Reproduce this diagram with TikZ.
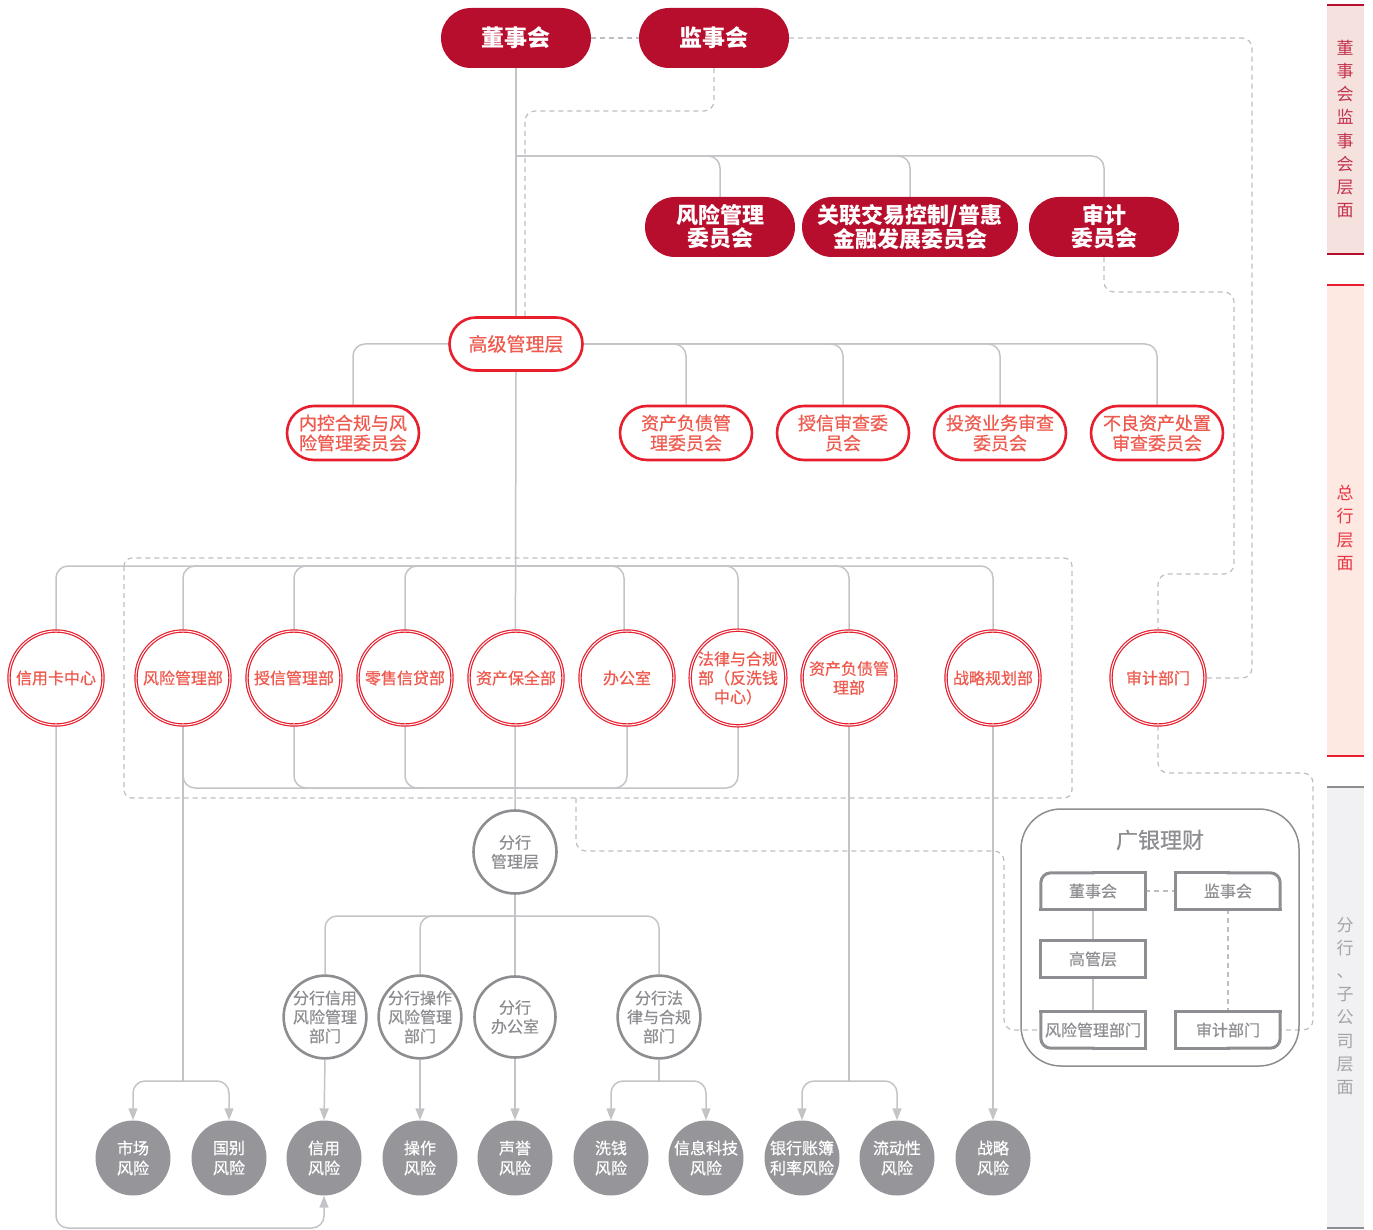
\documentclass[tikz,border=0pt]{standalone}
\usepackage{fontspec}
\setmainfont{Noto Sans CJK SC}
\newfontfamily\medfont[FakeBold=0.6]{Noto Sans CJK SC}
\usepackage{tikz}
\usetikzlibrary{arrows.meta}
\usetikzlibrary{backgrounds}
\definecolor{darkred}{RGB}{184,14,46}
\definecolor{brightred}{RGB}{230,30,45}
\definecolor{coral}{RGB}{238,90,78}
\definecolor{linegray}{RGB}{196,196,200}
\definecolor{dashgray}{RGB}{190,190,194}
\definecolor{midgray}{RGB}{142,142,146}
\definecolor{fillgray}{RGB}{150,150,154}
\definecolor{pinkA}{RGB}{245,226,222}
\definecolor{pinkB}{RGB}{253,232,226}
\definecolor{greyband}{RGB}{241,241,243}
\tikzset{board/.style = {rectangle,rounded corners=30pt,fill=darkred,text=white,minimum width=150pt,minimum height=60pt,inner sep=0pt,align=center,font=\fontsize{23}{24}\selectfont\bfseries}}
\tikzset{committee/.style = {board,font=\fontsize{22}{23}\selectfont\bfseries}}
\tikzset{redpill/.style = {rectangle,rounded corners=27pt,draw=brightred,line width=2.6pt,fill=white,text=coral,minimum width=132pt,minimum height=54pt,inner sep=0pt,align=center,font=\medfont\fontsize{18}{20}\selectfont}}
\tikzset{senior/.style = {redpill,rounded corners=26.5pt,minimum width=133pt,minimum height=53pt,font=\medfont\fontsize{19}{20}\selectfont}}
\tikzset{dept/.style = {circle,draw=brightred,double=white,double distance=1pt,line width=1.2pt,fill=white,text=coral,minimum size=94pt,inner sep=0pt,align=center,font=\medfont\fontsize{16}{19}\selectfont}}
\tikzset{branch/.style = {circle,draw=midgray,line width=2.6pt,fill=white,text=midgray,minimum size=81pt,inner sep=0pt,align=center,font=\medfont\fontsize{16}{19}\selectfont}}
\tikzset{risk/.style = {circle,fill=fillgray,text=white,minimum size=75pt,inner sep=0pt,align=center,font=\medfont\fontsize{16}{20}\selectfont}}
\tikzset{gsmall/.style = {minimum width=104pt,minimum height=36pt,inner sep=0pt,text=midgray,font=\medfont\fontsize{16}{18}\selectfont}}
\tikzset{gbox/.style = {draw=midgray,line width=3pt,line cap=rect}}
\tikzset{conn/.style = {draw=linegray,line width=1.5pt,rounded corners=12pt}}
\tikzset{dconn/.style = {draw=dashgray,line width=1.2pt,dash pattern=on 5pt off 4pt,rounded corners=10pt}}
\tikzset{arr/.style = {conn,-{Triangle[length=12pt,width=9pt]}}}
\tikzset{sidetext/.style = {align=center,font=\fontsize{17}{23.2}\selectfont}}

\begin{document}
\begin{tikzpicture}[x=1pt,y=-1pt]
    \useasboundingbox (0,0) rectangle (1373,1230);

    % Board level
    \node[board] (dsh) at (516,38) {董事会};
    \node[board] (jsh) at (714,38) {监事会};
    \node[committee] (fxwyh) at (720,227) {风险管理\\委员会};
    \node[committee,minimum width=216pt] (glwyh) at (910,227) {关联交易控制/普惠\\金融发展委员会};
    \node[committee] (sjwyh) at (1104,227) {审计\\委员会};

    % Head office
    \node[senior] (gjgl) at (516,344) {高级管理层};
    \node[redpill] (nkwyh) at (353,433) {内控合规与风\\险管理委员会};
    \node[redpill] (zcfzwyh) at (686,433) {资产负债管\\理委员会};
    \node[redpill] (sxwyh) at (843,433) {授信审查委\\员会};
    \node[redpill] (tzwyh) at (1000,433) {投资业务审查\\委员会};
    \node[redpill] (blwyh) at (1157,433) {不良资产处置\\审查委员会};

    \node[dept] (xykzx) at (56,678) {信用卡中心};
    \node[dept] (fxglb) at (183,678) {风险管理部};
    \node[dept] (sxglb) at (294,678) {授信管理部};
    \node[dept] (lsxdb) at (405,678) {零售信贷部};
    \node[dept] (zcbqb) at (516,678) {资产保全部};
    \node[dept] (bgs) at (627,678) {办公室};
    \node[dept] (flhgb) at (738,678) {法律与合规\\部（反洗钱\\中心）};
    \node[dept] (zcfzglb) at (849,678) {资产负债管\\理部};
    \node[dept] (zlghb) at (993,678) {战略规划部};
    \node[dept] (sjbm) at (1158,678) {审计部门};

    % Branch level
    \node[branch,minimum size=83pt] (fhgl) at (515,852) {分行\\管理层};
    \node[branch] (fhxy) at (325,1017) {分行信用\\风险管理\\部门};
    \node[branch] (fhcz) at (420,1017) {分行操作\\风险管理\\部门};
    \node[branch] (fhbgs) at (515,1017) {分行\\办公室};
    \node[branch] (fhfl) at (659,1017) {分行法\\律与合规\\部门};

    % Risks
    \node[risk] (scfx) at (133,1158) {市场\\风险};
    \node[risk] (gbfx) at (229,1158) {国别\\风险};
    \node[risk] (xyfx) at (324,1158) {信用\\风险};
    \node[risk] (czfx) at (420,1158) {操作\\风险};
    \node[risk] (syfx) at (515,1158) {声誉\\风险};
    \node[risk] (xqfx) at (611,1158) {洗钱\\风险};
    \node[risk] (xxkjfx) at (706,1158) {信息科技\\风险};
    \node[risk] (yhzbfx) at (802,1158) {银行账簿\\利率风险};
    \node[risk] (ldxfx) at (897,1158) {流动性\\风险};
    \node[risk] (zlfx) at (993,1158) {战略\\风险};

    % Subsidiary
    \node[draw=midgray,line width=1.5pt,rounded corners=40pt,minimum width=278pt,minimum height=257pt] (gylc) at (1160,937.5) {};
    \node[text=midgray,font=\medfont\fontsize{22}{24}\selectfont] (gytitle) at (1160,840) {广银理财};
    \node[gsmall] (gdsh) at (1093,891) {董事会};
    \node[gsmall] (gjsh) at (1228,891) {监事会};
    \node[gsmall] (ggc) at (1093,959) {高管层};
    \node[gsmall] (gfxb) at (1093,1030) {风险管理部门};
    \node[gsmall] (gsjb) at (1228,1030) {审计部门};
    \draw[gbox] (gdsh.north) -- (gdsh.north east) -- (gdsh.south east) -- (gdsh.south west);
    \draw[gbox,rounded corners=10pt] (gdsh.south west) -- (gdsh.north west) -- (gdsh.north);
    \draw[gbox] (gjsh.north) -- (gjsh.north west) -- (gjsh.south west) -- (gjsh.south east);
    \draw[gbox,rounded corners=10pt] (gjsh.south east) -- (gjsh.north east) -- (gjsh.north);
    \draw[gbox] (ggc.north west) rectangle (ggc.south east);
    \draw[gbox] (gfxb.south) -- (gfxb.south east) -- (gfxb.north east) -- (gfxb.north west);
    \draw[gbox,rounded corners=10pt] (gfxb.north west) -- (gfxb.south west) -- (gfxb.south);
    \draw[gbox] (gsjb.south) -- (gsjb.south west) -- (gsjb.north west) -- (gsjb.north east);
    \draw[gbox,rounded corners=10pt] (gsjb.north east) -- (gsjb.south east) -- (gsjb.south);

    % Level bars
    \fill[pinkA] (1327,5) rectangle (1364,254);
    \draw[darkred,line width=2.5pt] (1327,5) -- (1364,5) (1327,254) -- (1364,254);
    \fill[pinkB] (1327,285) rectangle (1364,756);
    \draw[brightred,line width=2.5pt] (1327,285) -- (1364,285) (1327,756) -- (1364,756);
    \fill[greyband] (1327,787) rectangle (1364,1228);
    \draw[midgray,line width=2.5pt] (1327,787) -- (1364,787) (1327,1228) -- (1364,1228);
    \node[sidetext,text=darkred!85] (lvl1) at (1345,129) {董\\事\\会\\监\\事\\会\\层\\面};
    \node[sidetext,text=brightred!90] (lvl2) at (1345,528) {总\\行\\层\\面};
    \node[sidetext,text=midgray!80] (lvl3) at (1345,1006) {分\\行\\、\\子\\公\\司\\层\\面};

    % Junctions
    \coordinate (wyh) at (516,156);
    \coordinate (jz) at (525,111);
    \coordinate (sjr) at (1252,678);
    \coordinate (sa) at (1234,292);
    \coordinate (sb) at (1234,574);
    \coordinate (bt) at (516,566);
    \coordinate (bb) at (516,788);
    \coordinate (da) at (576,798);
    \coordinate (db) at (1004,851);
    \coordinate (dc) at (1313,773);
    \coordinate (fb) at (516,916);
    \coordinate (s1) at (183,1081);
    \coordinate (s2) at (659,1081);
    \coordinate (s3) at (849,1081);
    \coordinate (s4) at (324,1228);

    \begin{scope}[on background layer]
        % Edges
        % board
        \draw[conn] (dsh.south) -- (gjgl.north);
        \draw[conn] (wyh) -| (fxwyh.north);
        \draw[conn] (wyh) -| (glwyh.north);
        \draw[conn] (wyh) -| (sjwyh.north);
        \draw[dconn] (dsh.east) -- (jsh.west);
        \draw[dconn] (jsh.south) |- (jz) -- (jz |- gjgl.north);
        \draw[dconn] (jsh.east) -| (sjr) -- (sjbm.east);
        \draw[dconn] (sjwyh.south) |- (sa) -- (sb) -| (sjbm.north);

        % senior management
        \draw[conn] (gjgl.west) -| (nkwyh.north);
        \foreach \c in {zcfzwyh,sxwyh,tzwyh,blwyh}
            \draw[conn] (gjgl.east) -| (\c.north);
        \draw[conn] (gjgl.south) -- (fhgl.north);

        % departments
        \foreach \c in {xykzx,fxglb,sxglb,lsxdb,zlghb}
            \draw[conn] (bt) -| (\c.north);
        \draw[conn] (bt) -| ([xshift=-3pt]bgs.north);
        \draw[conn] (bt) -| (flhgb.north);
        \draw[conn] (bt) -| (zcfzglb.north);
        \foreach \c in {fxglb,sxglb,lsxdb,bgs,flhgb}
            \draw[conn] (\c.south) |- (bb);
        \draw[dconn,rounded corners=8pt] (124,558) rectangle (1072,798);
        \draw[dconn] (da) |- (db) |- (gfxb.west);
        \draw[dconn] (sjbm.south) |- (dc) |- (gsjb.east);

        % branch
        \draw[conn] (fhgl.south) -- (fhbgs.north);
        \foreach \c in {fhxy,fhcz,fhfl}
            \draw[conn] (fb) -| (\c.north);

        % risks
        \draw[conn] (fxglb.south) -- (s1);
        \draw[arr] (s1) -| (scfx.north);
        \draw[arr] (s1) -| (gbfx.north);
        \draw[arr] (fhxy.south) -- (xyfx.north);
        \draw[arr] (fhcz.south) -- (czfx.north);
        \draw[arr] (fhbgs.south) -- (syfx.north);
        \draw[conn] (fhfl.south) -- (s2);
        \draw[arr] (s2) -| (xqfx.north);
        \draw[arr] (s2) -| (xxkjfx.north);
        \draw[conn] (zcfzglb.south) -- (s3);
        \draw[arr] (s3) -| (yhzbfx.north);
        \draw[arr] (s3) -| (ldxfx.north);
        \draw[arr] (zlghb.south) -- (zlfx.north);
        \draw[arr] (xykzx.south) |- (s4) -- (xyfx.south);

        % subsidiary
        \draw[draw=linegray,line width=1.2pt] (gdsh.south) -- (ggc.north);
        \draw[draw=linegray,line width=1.2pt] (ggc.south) -- (gfxb.north);
        \draw[dconn] (gdsh.east) -- (gjsh.west);
        \draw[dconn] (gjsh.south) -- (gsjb.north);
    \end{scope}
\end{tikzpicture}
\end{document}
